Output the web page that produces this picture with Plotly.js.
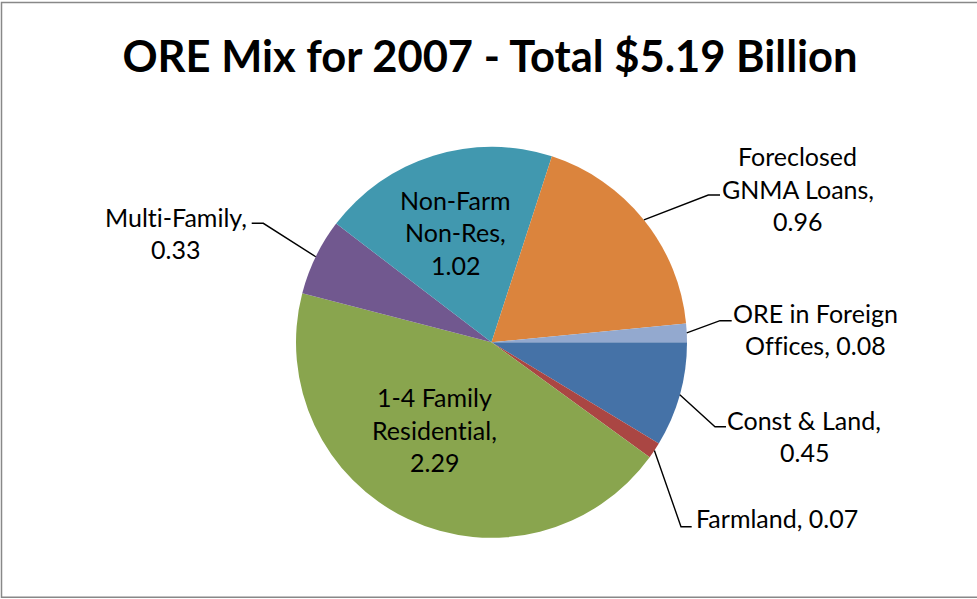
<!DOCTYPE html>
<html>
<head>
<meta charset="utf-8">
<script src="https://cdn.plot.ly/plotly-3.0.1.min.js"></script>
<style>
html,body{margin:0;padding:0;background:#fff;}
#chart{width:977px;height:599px;}
svg text{font-variant-ligatures:none !important;font-feature-settings:"liga" 0,"clig" 0,"dlig" 0 !important;}
</style>
</head>
<body>
<div id="chart"></div>
<script>
// ---- data ----
const categories = ["Const & Land", "Farmland", "1-4 Family Residential", "Multi-Family", "Non-Farm Non-Res", "Foreclosed GNMA Loans", "ORE in Foreign Offices"];
const values = [0.45, 0.07, 2.29, 0.33, 1.02, 0.96, 0.08];
const colors = ["#4572A7", "#AA4643", "#89A54E", "#71588F", "#4198AF", "#DB843D", "#93A9CF"];
const chartTitle = "ORE Mix for 2007 - Total $5.19 Billion";

// ---- layout config (pixels) ----
const W = 977, H = 599;
const cx = 491.5, cy = 342.3, R = 195.5;
const rotation = 90;
const lineGap = 32.5;
// words per line, label anchor (first line center), leader elbow + end (null = inside label)
const labelCfg = [
  {words: [3, 1], x: 804, y: 419.5, elbow: [715, 426.7], end: [726, 426.7]},
  {words: [2], x: 776.7, y: 518.3, elbow: [681, 526.7], end: [691.7, 526.7]},
  {words: [2, 1, 1], x: 434, y: 397, elbow: null},
  {words: [1, 1], x: 175.5, y: 216.7, elbow: [263.3, 223.3], end: [251.7, 223.3]},
  {words: [1, 1, 1], x: 455, y: 199.5, elbow: null},
  {words: [1, 2, 1], x: 797.5, y: 156, elbow: [708.3, 195], end: [720, 195]},
  {words: [3, 2], x: 815, y: 312.7, elbow: [720, 320.7], end: [731.7, 320.7]}
];

const px = x => x / W;
const py = y => 1 - y / H;

const total = values.reduce((a, b) => a + b, 0);
const annotations = [];
const shapes = [];
let acc = 0;
values.forEach((v, i) => {
  const mid = rotation + (acc + v / 2) / total * 360;
  acc += v;
  const rad = mid * Math.PI / 180;
  const sx = cx + R * Math.sin(rad), sy = cy - R * Math.cos(rad);
  const cfg = labelCfg[i];
  const words = (categories[i] + ", " + values[i].toFixed(2)).split(" ");
  let k = 0;
  cfg.words.forEach((n, li) => {
    const line = words.slice(k, k + n).join(" ");
    k += n;
    annotations.push({
      text: line, showarrow: false, xref: "paper", yref: "paper",
      x: px(cfg.x), y: py(cfg.y + li * lineGap), xanchor: "center", yanchor: "middle",
      font: {family: "Lato, 'Open Sans', sans-serif", size: 25, color: "#000"}
    });
  });
  if (cfg.elbow) {
    shapes.push({
      type: "path", xref: "paper", yref: "paper",
      path: `M ${px(sx)} ${py(sy)} L ${px(cfg.elbow[0])} ${py(cfg.elbow[1])} L ${px(cfg.end[0])} ${py(cfg.end[1])}`,
      line: {color: "#000", width: 1.4}
    });
  }
});

// chart border
shapes.push({type: "rect", xref: "paper", yref: "paper", x0: px(1.5), x1: px(980), y0: py(597.3), y1: py(2.5), line: {color: "#888", width: 1.5}});

const trace = {
  type: "pie",
  labels: categories,
  values: values,
  sort: false,
  direction: "clockwise",
  rotation: rotation,
  textinfo: "none",
  hoverinfo: "label+value",
  marker: {colors: colors, line: {width: 0}},
  domain: {x: [px(cx - R), px(cx + R)], y: [py(cy + R), py(cy - R)]},
  showlegend: false
};

const layout = {
  width: W, height: H,
  margin: {l: 0, r: 0, t: 0, b: 0},
  paper_bgcolor: "#fff",
  title: {
    text: chartTitle, x: px(490), xanchor: "center", y: py(57), yanchor: "middle", xref: "paper", yref: "paper",
    font: {family: "Lato, 'Open Sans', sans-serif", size: 43.5, color: "#000", weight: 700}
  },
  annotations: annotations,
  shapes: shapes,
  showlegend: false
};

Plotly.newPlot("chart", [trace], layout, {displayModeBar: false, staticPlot: true});
</script>
</body>
</html>
